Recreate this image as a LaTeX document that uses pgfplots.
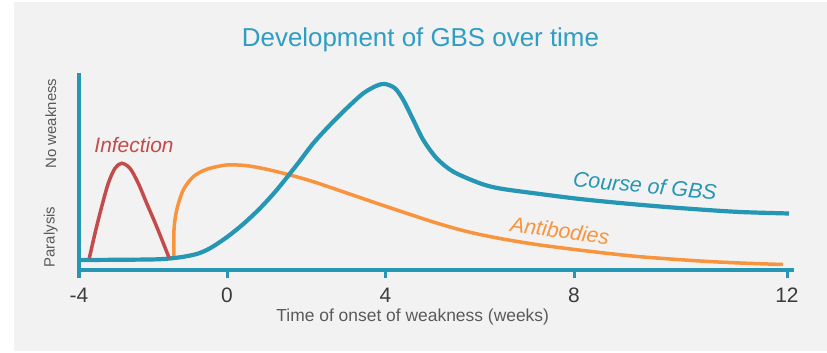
\documentclass[border=0pt]{standalone}
\usepackage{fontspec}
\setmainfont{Liberation Sans}
\usepackage{pgfplots}
\pgfplotsset{compat=1.18}

\definecolor{gbsteal}{HTML}{2596B4}
\definecolor{titleteal}{HTML}{2E9EC2}
\definecolor{abor}{HTML}{F8943D}
\definecolor{infred}{HTML}{C44B4B}
\definecolor{panel}{HTML}{F2F2F2}
\definecolor{darktext}{HTML}{3C3C3C}
\definecolor{midtext}{HTML}{5A5A5A}

\begin{document}
\begin{tikzpicture}
\useasboundingbox (0,0) rectangle (827bp,353bp);
\fill[white] (0,0) rectangle (827bp,353bp);
\fill[panel] (14bp,2bp) rectangle (827bp,351bp);

% x is in drawing units: the week ticks are not evenly spaced in the source
\begin{axis}[
  at={(79bp,83bp)}, anchor=south west,
  x=1bp, y=1bp,
  xmin=79, xmax=794, ymin=0, ymax=197,
  axis x line=bottom, axis y line=left,
  axis line style={gbsteal, line width=4bp, -},
  xtick={79,227,385.5,574,787},
  xticklabels={-4,0,4,8,12},
  ytick=\empty,
  tick align=outside,
  major tick length=8bp,
  x tick style={gbsteal, line width=3bp},
  xticklabel style={text=darktext, font=\fontsize{21}{21}\selectfont, anchor=base, yshift=-24bp},
  clip=false,
]
  % Antibodies
  \addplot[abor, line width=3.5bp, smooth, tension=0.5] coordinates {
    (174,13.3) (174,40) (176.7,60) (183.3,80) (193.3,93.3) (206.7,100.7)
    (226.7,105) (246.7,104.3) (266.7,100.7) (290,95) (313.3,88.3) (346.7,77)
    (383.3,64.5) (433.3,48) (466.7,38.5) (500,31.5) (540,25) (593,18.3)
    (640,13.3) (700,9) (740,7) (783,5.5)
  };
  % Course of GBS
  \addplot[gbsteal, line width=4.2bp, smooth, tension=0.5] coordinates {
    (80,10) (130,10.3) (160,10.8) (180,12.7) (196.7,16) (210,21.7)
    (226.7,32.7) (243.3,46) (260,61.7) (276.7,80) (296.7,105) (313.3,126.7)
    (330,145) (346.7,161.7) (363.3,176.7) (376.7,184.3) (385,186)
    (395,181.7) (403.3,170) (413.3,150) (423.3,130) (436.7,111.7)
    (453.3,98.3) (480,86.7) (500,81.5) (540,76) (580,71) (620,67)
    (660,63.5) (700,60.5) (740,58) (789,56.5)
  };
  % Infection
  \addplot[infred, line width=3.5bp, smooth, tension=0.5] coordinates {
    (89.3,11.7) (95,36.7) (101.7,63.3) (108.3,86.7) (115,101.7) (121.7,106.7)
    (130,101.7) (138.3,86.7) (146.7,66.7) (156.7,43.3) (169.3,11.7)
  };

  \node[infred, anchor=base, font=\itshape\fontsize{21}{21}\selectfont] at (axis cs:134,117.3) {Infection};
  \node[gbsteal, rotate=-5.4, font=\itshape\fontsize{21.5}{21.5}\selectfont] at (axis cs:645,84.4) {Course of GBS};
  \node[abor, rotate=-8, font=\itshape\fontsize{21.4}{21.4}\selectfont] at (axis cs:560,39.5) {Antibodies};

  \node[midtext, rotate=90, font=\fontsize{15}{15}\selectfont] at (axis cs:50.7,146.5) {No weakness};
  \node[midtext, rotate=90, font=\fontsize{15}{15}\selectfont] at (axis cs:50.7,33) {Paralysis};

  \node[midtext, anchor=base, font=\fontsize{17.5}{17.5}\selectfont] at (axis cs:412.7,-51.7) {Time of onset of weakness (weeks)};
\end{axis}

\node[titleteal, anchor=base, font=\fontsize{26}{30}\selectfont] at (420.5bp,306.3bp) {Development of GBS over time};
\end{tikzpicture}
\end{document}
